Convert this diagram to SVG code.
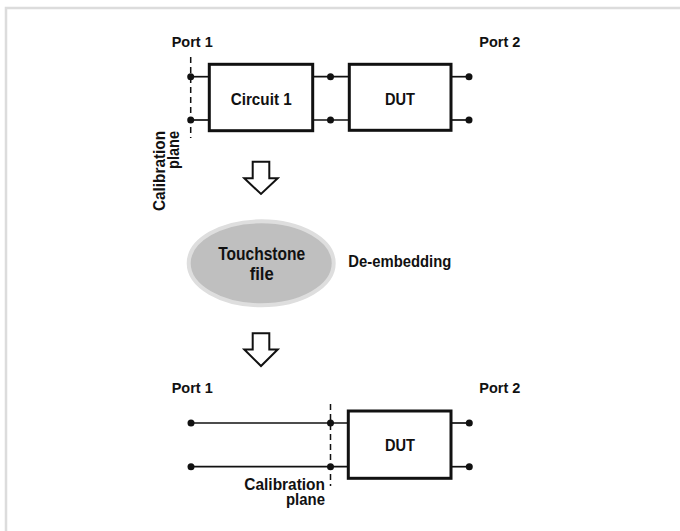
<svg xmlns="http://www.w3.org/2000/svg" width="680" height="531" viewBox="0 0 680 531">
<style>
text{font-family:"Liberation Sans",Arial,sans-serif;font-weight:bold;fill:#111;}
.lbl{font-size:15.5px;}
.big{font-size:16.5px;}
.box{fill:#fff;stroke:#111;stroke-width:3;}
.wire{stroke:#111;stroke-width:1.7;fill:none;}
.dash{stroke:#111;stroke-width:1.5;stroke-dasharray:6 4;fill:none;}
.dot{fill:#111;}
.arr{fill:#fff;stroke:#111;stroke-width:2;stroke-linejoin:miter;}
</style>
<rect x="0" y="0" width="680" height="531" fill="#fff"/>
<path d="M6 531 V8 H680" fill="none" stroke="#dcdcdc" stroke-width="2.5"/>

<g id="connectors">
  <line class="wire" x1="190.7" y1="76.7" x2="209.3" y2="76.7"/>
  <line class="wire" x1="190.7" y1="120" x2="209.3" y2="120"/>
  <line class="wire" x1="312.7" y1="76.7" x2="349.3" y2="76.7"/>
  <line class="wire" x1="312.7" y1="120" x2="349.3" y2="120"/>
  <line class="wire" x1="451" y1="76.7" x2="469" y2="76.7"/>
  <line class="wire" x1="451" y1="120" x2="469" y2="120"/>
  <line class="dash" x1="190.7" y1="57" x2="190.7" y2="138"/>
  <polygon class="arr" points="252.7,161.7 269.3,161.7 269.3,178.3 277.7,178.3 261,194 244.3,178.3 252.7,178.3"/>
  <polygon class="arr" points="252.7,333.3 269.3,333.3 269.3,349.5 277.7,349.5 261,366 244.3,349.5 252.7,349.5"/>
  <line class="wire" x1="191" y1="423" x2="348.3" y2="423"/>
  <line class="wire" x1="191" y1="466.7" x2="348.3" y2="466.7"/>
  <line class="wire" x1="451" y1="423" x2="469.3" y2="423"/>
  <line class="wire" x1="451" y1="466.7" x2="469.3" y2="466.7"/>
  <line class="dash" x1="330.5" y1="404" x2="330.5" y2="486"/>
</g>

<g id="port1-top"><text class="lbl" x="171.7" y="47" textLength="41" lengthAdjust="spacingAndGlyphs">Port 1</text>
  <circle class="dot" cx="190.7" cy="76.7" r="3.5"/><circle class="dot" cx="190.7" cy="120" r="3.5"/></g>
<g id="port2-top"><text class="lbl" x="479.3" y="47" textLength="41" lengthAdjust="spacingAndGlyphs">Port 2</text>
  <circle class="dot" cx="469" cy="76.7" r="3.5"/><circle class="dot" cx="469" cy="120" r="3.5"/></g>
<g id="circuit1"><rect class="box" x="209.3" y="64.3" width="103.4" height="66.4"/>
  <text class="big" x="230.7" y="105" textLength="61" lengthAdjust="spacingAndGlyphs">Circuit 1</text></g>
<g id="mid-dots"><circle class="dot" cx="330.5" cy="76.7" r="3.5"/><circle class="dot" cx="330.5" cy="120" r="3.5"/></g>
<g id="dut-top"><rect class="box" x="349.3" y="64.3" width="101.7" height="66"/>
  <text class="big" x="385" y="105" textLength="30" lengthAdjust="spacingAndGlyphs">DUT</text></g>
<g id="calib-top">
  <text class="big" transform="translate(165,131) rotate(-90)" text-anchor="end" textLength="80" lengthAdjust="spacingAndGlyphs">Calibration</text>
  <text class="big" transform="translate(178.5,131) rotate(-90)" text-anchor="end" textLength="38" lengthAdjust="spacingAndGlyphs">plane</text>
</g>
<g id="touchstone"><ellipse cx="261.2" cy="263.3" rx="72.5" ry="42" fill="#bfbfbf" stroke="#dedede" stroke-width="4"/>
  <text class="big" x="261.7" y="260" text-anchor="middle" style="font-size:17.5px" textLength="87" lengthAdjust="spacingAndGlyphs">Touchstone</text>
  <text class="big" x="261.7" y="279.5" text-anchor="middle" style="font-size:17.5px" textLength="24" lengthAdjust="spacingAndGlyphs">file</text></g>
<g id="deembedding"><text class="big" x="348.3" y="267.3" textLength="103" lengthAdjust="spacingAndGlyphs">De-embedding</text></g>

<g id="port1-bottom"><text class="lbl" x="171.7" y="393.3" textLength="41" lengthAdjust="spacingAndGlyphs">Port 1</text>
  <circle class="dot" cx="191" cy="423" r="3.5"/><circle class="dot" cx="191" cy="466.7" r="3.5"/></g>
<g id="calib-bottom"><circle class="dot" cx="330.5" cy="423" r="3.5"/><circle class="dot" cx="330.5" cy="466.7" r="3.5"/>
  <text class="big" x="325" y="490" text-anchor="end" textLength="80.7" lengthAdjust="spacingAndGlyphs">Calibration</text>
  <text class="big" x="325" y="505" text-anchor="end" textLength="39" lengthAdjust="spacingAndGlyphs">plane</text></g>
<g id="dut-bottom"><rect class="box" x="348.3" y="411" width="102.7" height="67.3"/>
  <text class="big" x="385" y="451" textLength="30" lengthAdjust="spacingAndGlyphs">DUT</text></g>
<g id="port2-bottom"><text class="lbl" x="479.3" y="392.7" textLength="41" lengthAdjust="spacingAndGlyphs">Port 2</text>
  <circle class="dot" cx="469.3" cy="423" r="3.5"/><circle class="dot" cx="469.3" cy="466.7" r="3.5"/></g>
</svg>
